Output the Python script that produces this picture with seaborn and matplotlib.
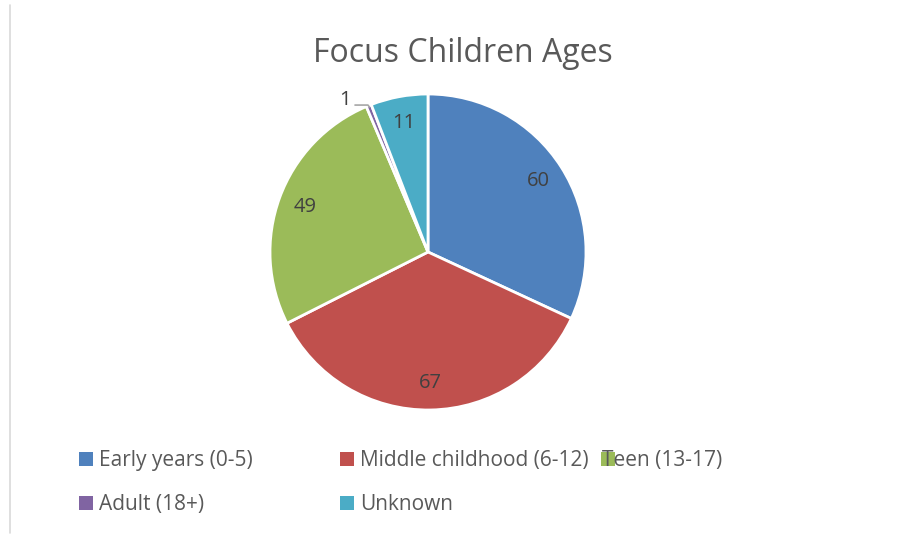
import numpy as np
import matplotlib
matplotlib.use("Agg")
import matplotlib.pyplot as plt
import seaborn as sns

categories = ["Early years (0-5)", "Middle childhood (6-12)", "Teen (13-17)",
              "Adult (18+)", "Unknown"]
counts = [60, 67, 49, 1, 11]
colors = ["#4F81BD", "#C0504D", "#9BBB59", "#8064A2", "#4BACC6"]
title = "Focus Children Ages"

sns.set_theme(style="white")
plt.rcParams["font.family"] = ["Open Sans", "DejaVu Sans"]
text_color = "#595959"
label_color = "#404040"

W, H = 904, 534
fig = plt.figure(figsize=(W / 100, H / 100), dpi=100)
fig.patch.set_facecolor("white")

# pie axes placed by pixel geometry: centre (428, 252), radius 158
cx, cy, r = 428, 252, 158
ax = fig.add_axes([(cx - r) / W, (H - cy - r) / H, 2 * r / W, 2 * r / H])
palette = sns.color_palette(colors)
wedges, _ = ax.pie(counts, colors=palette, startangle=90, counterclock=False,
                   wedgeprops=dict(edgecolor="white", linewidth=2))
ax.set_xlim(-1, 1)
ax.set_ylim(-1, 1)
ax.set_aspect("equal")
ax.axis("off")

for w, v in zip(wedges, counts):
    mid = np.deg2rad((w.theta1 + w.theta2) / 2)
    if v / sum(counts) < 0.02:
        # small slice: label outside with a leader line
        ex, ey = 0.99 * np.cos(mid), 0.99 * np.sin(mid)
        lx, ly = -0.49, 0.965
        ax.plot([-0.462, -0.38, ex], [0.93, 0.93, ey], color="#A6A6A6",
                lw=1.2, clip_on=False)
        ax.text(lx, ly, str(v), ha="right", va="center", fontsize=14.5,
                color=label_color)
    else:
        ax.text(0.83 * np.cos(mid), 0.83 * np.sin(mid), str(v), ha="center",
                va="center", fontsize=14.5, color=label_color)

fig.text(463 / W, 1 - 62 / H, title, ha="center", va="baseline", fontsize=23,
         color=text_color)

# legend entries: (square left x, baseline y, category index)
entries = [(79, 466, 0), (340, 466, 1), (601, 466, 2), (79, 510, 3), (340, 510, 4)]
for x, y, i in entries:
    fig.patches.append(plt.Rectangle((x / W, 1 - y / H), 14 / W, 14 / H,
                                     transform=fig.transFigure,
                                     facecolor=colors[i], edgecolor="none"))
    tx = x + 20 if i != 2 else x + 1
    fig.text(tx / W, 1 - y / H, categories[i], ha="left", va="baseline",
             fontsize=15, color=text_color)

# chart frame
fig.add_artist(plt.Line2D([10 / W, 10 / W], [1 - 5 / H, 1 - 533 / H],
                          color="#D9D9D9", lw=1.2, transform=fig.transFigure))

fig.savefig("out.png", dpi=100)
